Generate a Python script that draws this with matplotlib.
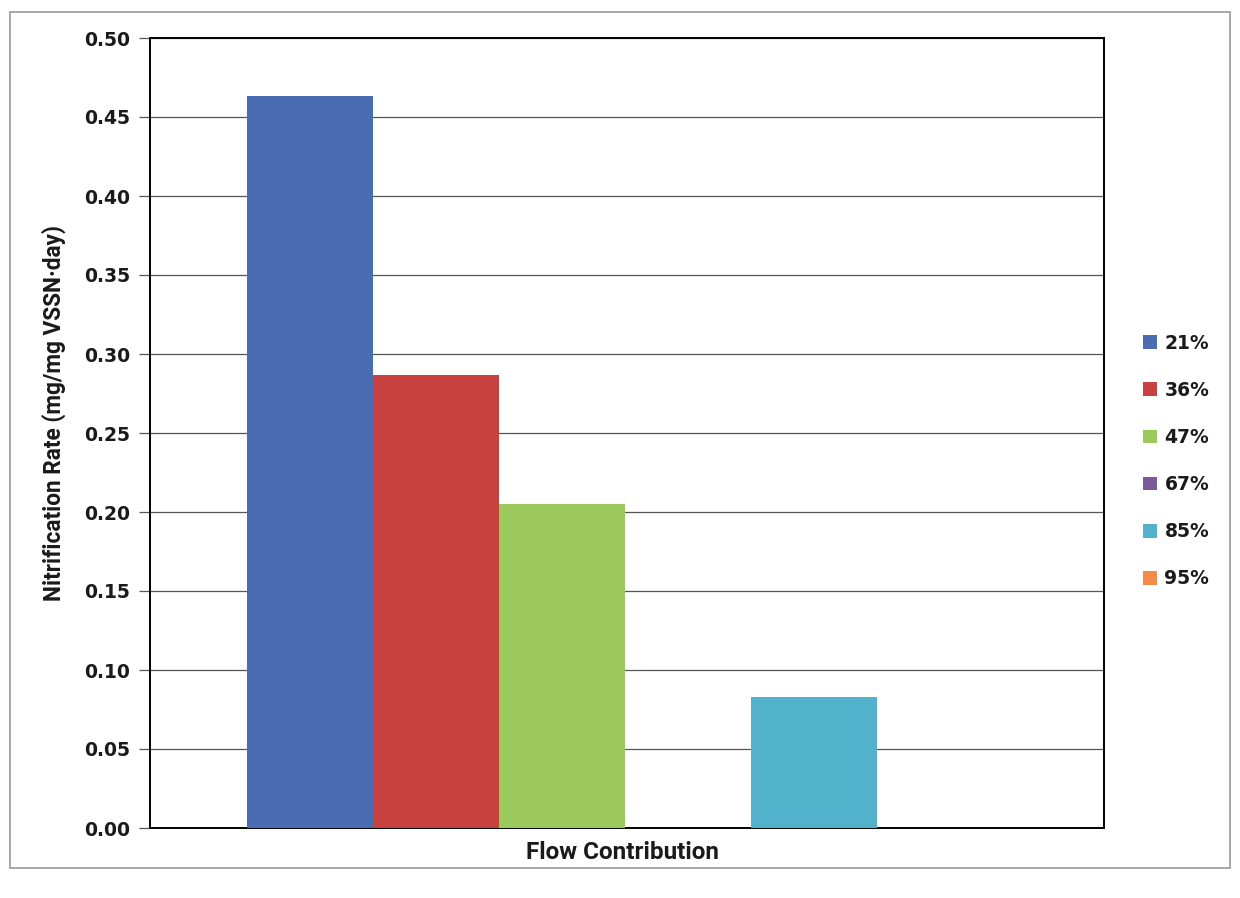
import matplotlib
matplotlib.use("Agg")
import matplotlib.pyplot as plt
from matplotlib.patches import Rectangle
import numpy as np

# Nitrification rate by flow contribution share
series_labels = ["21%", "36%", "47%", "67%", "85%", "95%"]
rates = [0.463, 0.287, 0.205, 0.0, 0.083, 0.0]
colors = ["#4A6CB3", "#C7423F", "#9CC95C", "#7B5A9B", "#52B2CC", "#F28C48"]
y_ticks = [0.00, 0.05, 0.10, 0.15, 0.20, 0.25, 0.30, 0.35, 0.40, 0.45, 0.50]

title_font = ["Roboto", "DejaVu Sans"]

fig = plt.figure(figsize=(12.4, 8.98), dpi=100)
ax = fig.add_axes([150 / 1240, 1 - 828 / 898, (1104 - 150) / 1240, (828 - 38) / 898])

# chart area border
fig.patches.append(Rectangle((10 / 1240, 1 - 868 / 898), 1220 / 1240, (868 - 12) / 898,
                             transform=fig.transFigure, fill=False,
                             edgecolor="#9a9a9a", linewidth=1.2))

width = 126 / 954
n = len(rates)
offsets = (np.arange(n) - (n - 1) / 2) * width - 0.002
handles = []
for off, val, col, lab in zip(offsets, rates, colors, series_labels):
    h = ax.bar(off, val, width=width, color=col, edgecolor="none", label=lab, zorder=3)
    handles.append(h)

ax.set_xlim(-0.5, 0.5)
ax.set_ylim(0, 0.5)
ax.set_yticks(y_ticks)
ax.set_yticklabels([f"{t:.2f}" for t in y_ticks], fontfamily="DejaVu Sans",
                   fontweight="bold", fontsize=13.5, color="#1a1a1a")
ax.set_xticks([])
ax.grid(axis="y", color="#555555", linewidth=0.9, zorder=0)
ax.tick_params(axis="y", length=8, width=0.9, color="#555555", pad=6.5)
for s in ax.spines.values():
    s.set_color("black")
    s.set_linewidth(1.4)

ax.set_ylabel("Nitrification Rate (mg/mg VSSN·day)", fontfamily=title_font,
              fontweight="bold", fontsize=16.3, color="#1a1a1a")
ax.yaxis.set_label_coords(-0.088, 0.525)
ax.set_xlabel("Flow Contribution", fontfamily=title_font, fontweight="bold",
              fontsize=17.5, color="#1a1a1a")
ax.xaxis.set_label_coords(0.495, -0.016)

leg = fig.legend(handles=handles, labels=series_labels, loc="center left",
                 bbox_to_anchor=(1126 / 1240, 1 - 461 / 898), frameon=False,
                 prop={"family": "DejaVu Sans", "weight": "bold", "size": 13.5},
                 handlelength=0.75, handleheight=0.75, handletextpad=0.4,
                 labelspacing=1.5)
for t in leg.get_texts():
    t.set_color("#1a1a1a")

fig.savefig("out.png", dpi=100, facecolor="white")
